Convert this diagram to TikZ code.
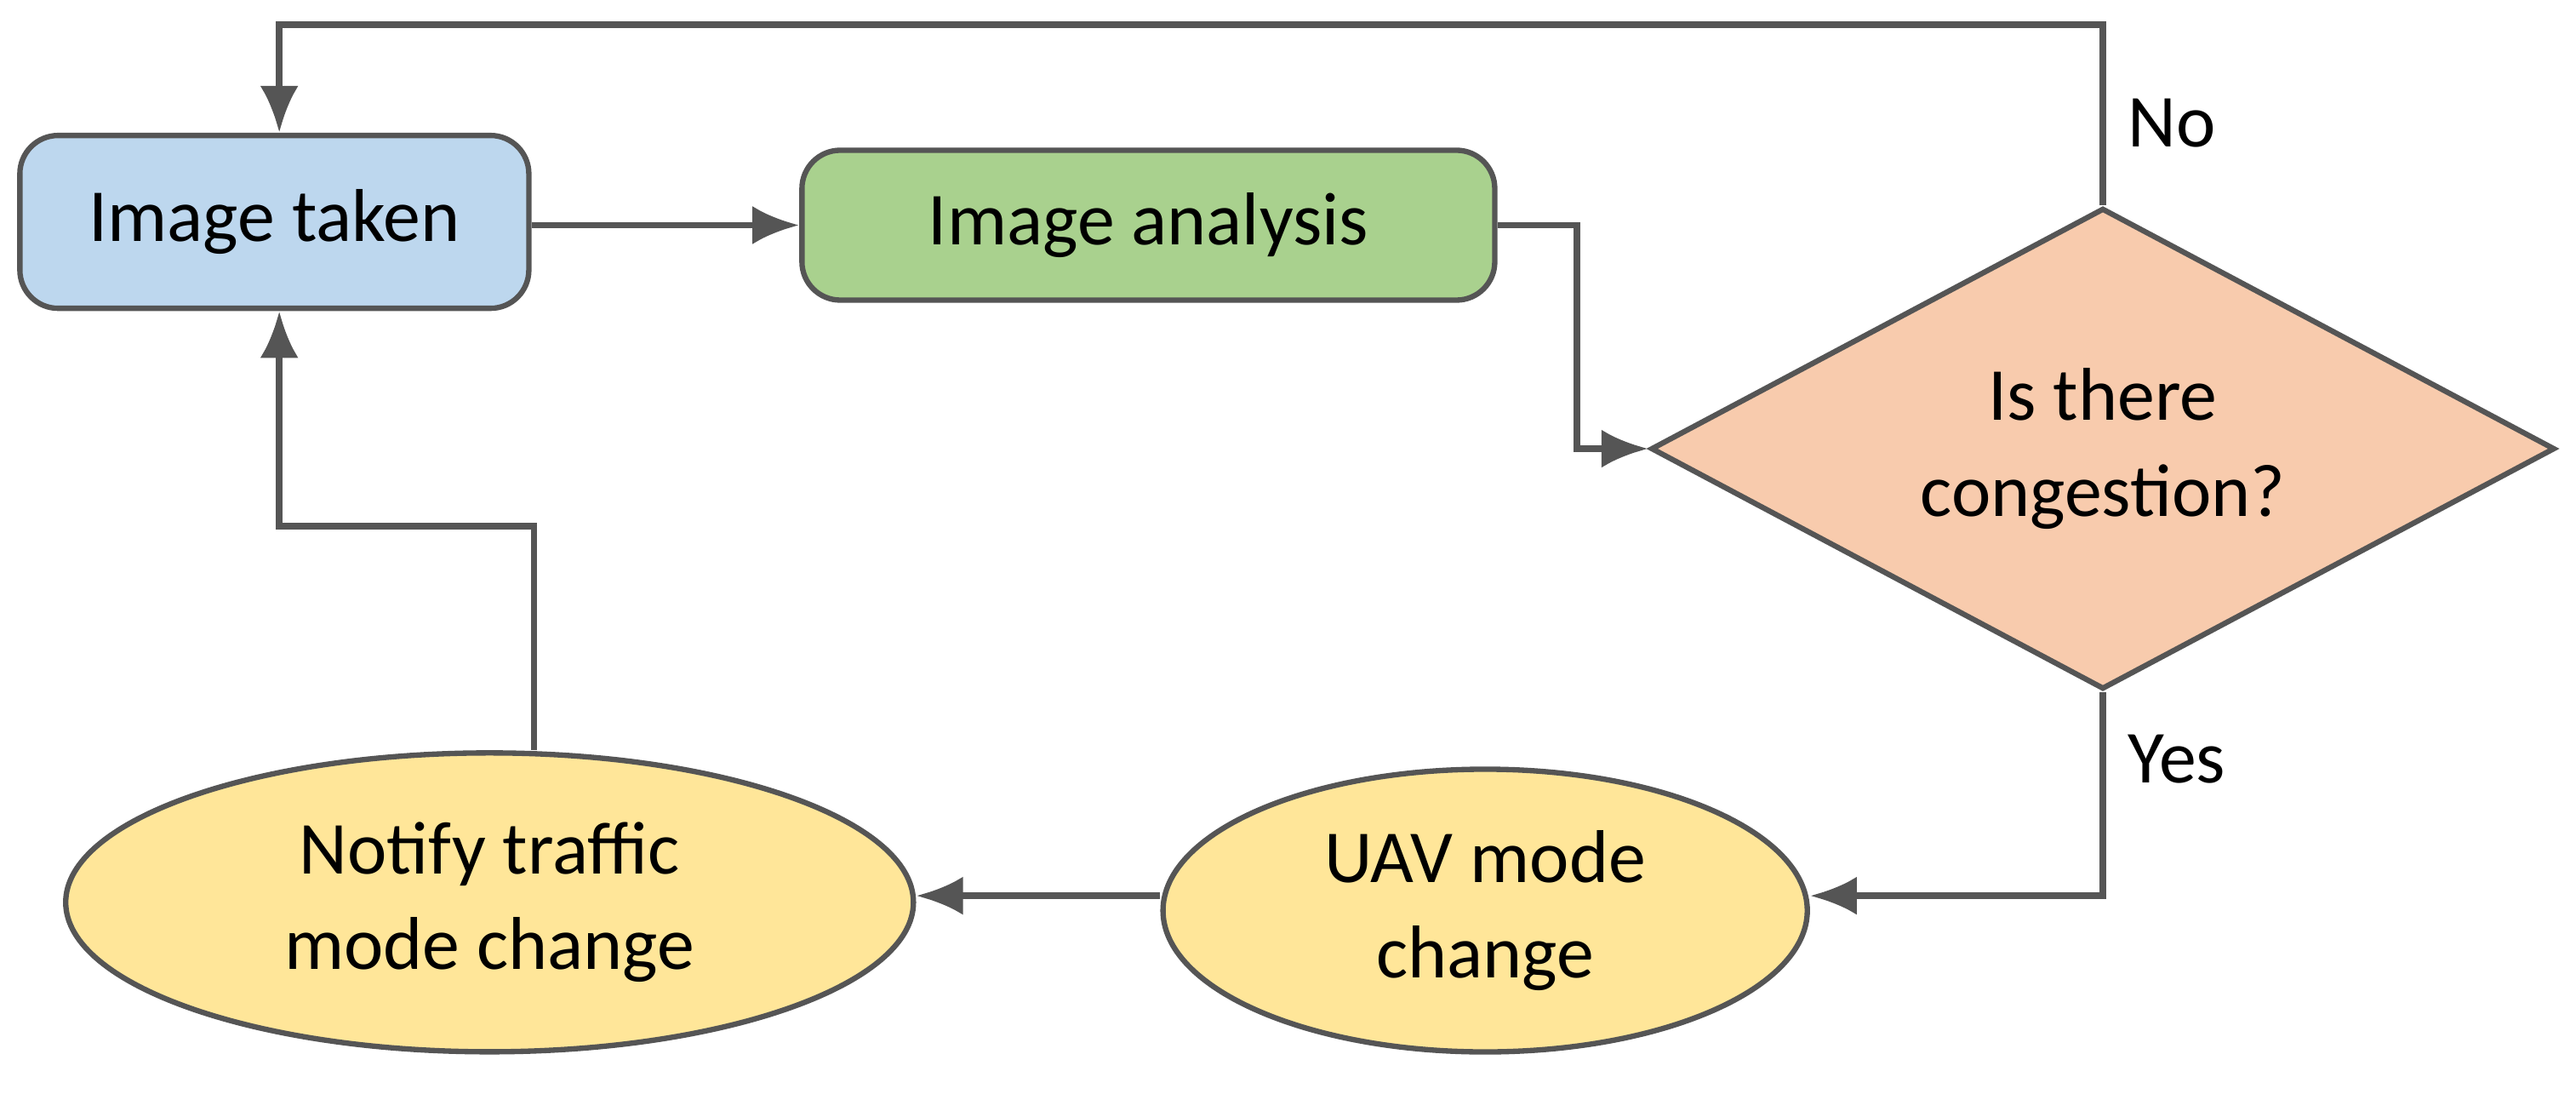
\documentclass[tikz,border=0pt]{standalone}
\usepackage{fontspec}
\setmainfont{Carlito}
\usetikzlibrary{shapes.geometric,arrows.meta}
\definecolor{bluef}{HTML}{BDD7EE}
\definecolor{greenf}{HTML}{A9D18E}
\definecolor{salmonf}{HTML}{F8CBAD}
\definecolor{yellowf}{HTML}{FFE699}
\definecolor{edge}{HTML}{555555}
\begin{document}
\begin{tikzpicture}[x=0.0193cm,y=-0.0193cm,
  box/.style={draw=edge,line width=1.8pt,rounded corners=0.45cm,align=center,inner sep=0pt},
  ell/.style={draw=edge,line width=1.8pt,ellipse,align=center,inner sep=0pt},
  conn/.style={draw=edge,line width=2.2pt,-{Latex[length=0.55cm,width=0.45cm]}},
  every node/.style={font=\fontsize{25}{32}\selectfont}]
\useasboundingbox (0,0) rectangle (1568,669);
\node[box,fill=bluef,minimum width=5.98cm,minimum height=2.03cm] (it) at (167,135) {Image taken};
\node[box,fill=greenf,minimum width=8.14cm,minimum height=1.76cm] (ia) at (699,137) {Image analysis};
\node[draw=edge,line width=1.8pt,diamond,aspect=1.877,fill=salmonf,minimum width=10.62cm,minimum height=5.65cm,inner sep=0pt,align=center] (d) at (1280,273) {Is there\\congestion?};
\node[ell,fill=yellowf,minimum width=7.57cm,minimum height=3.32cm] (uav) at (904,554) {UAV mode\\change};
\node[ell,fill=yellowf,minimum width=9.96cm,minimum height=3.51cm] (nt) at (298,549) {Notify traffic\\mode change};
\draw[conn] (it.east |- 0,137) -- (ia.west);
\draw[conn] (ia.east) -- (960,137) -- (960,273) -- (d.west);
\draw[conn] (d.north) -- (1280,15) -- (170,15) -- (it.north -| 170,0);
\draw[conn] (d.south) -- (1280,545) -- (uav.east |- 0,545);
\draw[conn] (uav.west |- 0,545) -- (nt.east |- 0,545);
\draw[conn] (nt.north -| 325,0) -- (325,320) -- (170,320) -- (it.south -| 170,0);
\node (no) at (1322,75) {No};
\node (yes) at (1325,462) {Yes};
\end{tikzpicture}
\end{document}
